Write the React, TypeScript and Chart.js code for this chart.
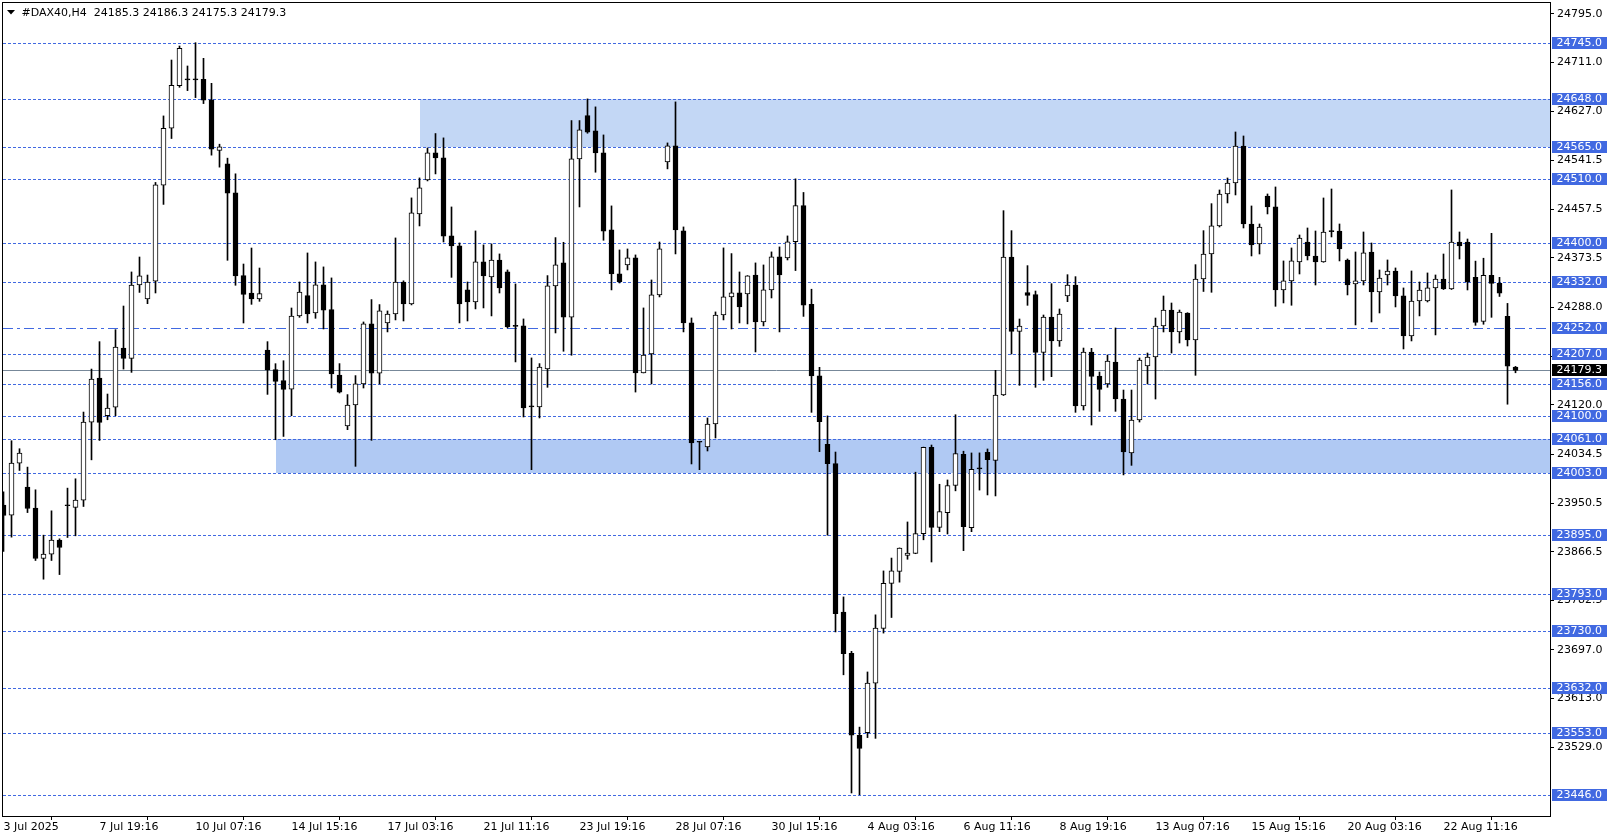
import { useEffect, useRef } from 'react';
import { Chart, registerables } from 'chart.js';

Chart.register(...registerables);

// H4 candles, 3 Jul - 22 Aug 2025
const opens = [
  23947, 23929.6, 24019.4, 23977.9, 23941.7, 23854.7, 23862.2, 23886.4, 23945.7, 23942.8,
  23955.5, 24090.2, 24166.2, 24101.1, 24116.1, 24218, 24200.2, 24326.8, 24302.6, 24333.2,
  24499.2, 24597.4, 24670.9, 24680.7, 24680.7, 24681.8, 24646.2, 24558.9, 24535.9, 24486,
  24343, 24313, 24302.6, 24214.6, 24180.6, 24161.6, 24147.2, 24273.3, 24308.5, 24278.5,
  24326.9, 24284.3, 24171.5, 24083.5, 24119.7, 24156, 24259.6, 24174.4, 24261.3, 24276.8,
  24332, 24294, 24449.5, 24508.2, 24554.8, 24546.1, 24411.5, 24394.2, 24318.3, 24297.5,
  24366.6, 24340.7, 24370, 24349.3, 24255.5, 24256.1, 24116.3, 24116.3, 24181.9, 24325.2,
  24364.9, 24271.1, 24544.4, 24619.2, 24592.8, 24554.8, 24421.8, 24345.9, 24361.4, 24373.5,
  24175, 24207.8, 24309.6, 24539.2, 24566.9, 24420.1, 24261.3, 24055.3, 24047.2, 24086.9,
  24275, 24306.2, 24313.1, 24311.4, 24344.1, 24263, 24318.3, 24375.2, 24373.5, 24401.4,
  24463.7, 24293.4, 24170, 24052, 24018.4, 23762.2, 23691.1, 23549.6, 23554.3, 23639.5,
  23734, 23811.9, 23832.6, 23860.1, 23863.5, 23897.7, 24046.6, 23908.4, 23933.9, 23980.8,
  24034.5, 23907.9, 24009.3, 24038, 24024, 24136.9, 24375.1, 24246.8, 24313.6, 24310.1,
  24210.6, 24271.6, 24230.1, 24307.8, 24326.8, 24117.9, 24211.1, 24169.7, 24155.9, 24193.9,
  24130, 24036.8, 24093.8, 24187, 24202.5, 24256, 24283.6, 24245.7, 24278.5, 24231.9,
  24337.2, 24380.3, 24428.7, 24483.9, 24502.9, 24566.7, 24432.1, 24397.6, 24480.4, 24461.5,
  24318.2, 24333.8, 24366.5, 24401, 24376.9, 24366.5, 24418.9, 24420, 24370, 24328.6,
  24333.8, 24383.8, 24314.8, 24344.1, 24351, 24307.9, 24238.8, 24299.2, 24299.2, 24321.7,
  24337.2, 24319.9, 24401, 24401, 24340, 24264, 24343.5, 24329.7, 24272.8, 24185.3,
];

const highs = [
  23970, 24058, 24044.2, 24012.5, 23973.3, 23895, 23937, 23888.7, 23976.2, 23992.3,
  24107.5, 24181.7, 24229, 24138.6, 24249.7, 24290.5, 24349.3, 24375.1, 24344, 24503.8,
  24618.6, 24715.1, 24739.3, 24704.8, 24745, 24718, 24674.9, 24569.8, 24545.7, 24518.7,
  24363, 24390.6, 24356.1, 24229, 24191, 24196.1, 24287.1, 24332, 24382.1, 24366.6,
  24358, 24339, 24191.1, 24137.6, 24170.4, 24263, 24301.6, 24293, 24282, 24408,
  24334, 24477.1, 24511.6, 24563.4, 24588.2, 24580.7, 24461.5, 24399.4, 24332, 24420.1,
  24396, 24397.7, 24380.4, 24352.8, 24328.6, 24268.2, 24200.9, 24191.1, 24343, 24408.6,
  24400.5, 24610.6, 24610.6, 24648, 24634.2, 24585.8, 24463.3, 24387.3, 24389, 24378.7,
  24287.2, 24335.5, 24401, 24572, 24642.8, 24427, 24269.9, 24057, 24097.3, 24280.3,
  24390.8, 24381, 24349.3, 24343, 24364.9, 24361.4, 24383.9, 24392.5, 24411.5, 24510,
  24486.5, 24319.5, 24184.7, 24100.9, 24038.5, 23788.4, 23694.5, 23563.7, 23658.9, 23757.5,
  23833.3, 23855.5, 23873, 23917.8, 24003.7, 24047, 24050.6, 23982.9, 23990.3, 24102.9,
  24039.9, 24036.9, 24037, 24043.8, 24179.5, 24455.1, 24420.6, 24268.1, 24360.2, 24316.4,
  24275, 24329.1, 24285.4, 24344.6, 24341.2, 24218, 24217.5, 24176.6, 24206, 24252.6,
  24145.5, 24145.5, 24200.8, 24209.4, 24269.8, 24307.8, 24295.7, 24283.6, 24279, 24361.9,
  24420.6, 24467.2, 24490.8, 24511.5, 24590.9, 24584, 24463.2, 24432.1, 24483.9, 24496,
  24368.3, 24390.7, 24413.1, 24425.2, 24420, 24477, 24492.5, 24432.1, 24371.7, 24383.8,
  24418.3, 24399.3, 24352.7, 24370, 24356.2, 24321.7, 24351, 24332, 24347.6, 24344.1,
  24380.3, 24490.8, 24418.3, 24406.2, 24368, 24373, 24416, 24340, 24295, 24186.3,
];

const lows = [
  23867, 23891.6, 24006.7, 23934, 23851.3, 23819, 23851.3, 23827, 23891, 23893.9,
  23944.5, 24025, 24058.5, 24094.2, 24101.1, 24181.7, 24176, 24314, 24294.6, 24313,
  24465.9, 24579.6, 24668, 24662.3, 24650.2, 24639.9, 24550.9, 24530.2, 24369.4, 24326.3,
  24261.2, 24293.4, 24298.6, 24138, 24059.7, 24065.4, 24101.1, 24271, 24261.3, 24269.3,
  24250.9, 24149, 24140.4, 24077.1, 24013.8, 24149, 24058.7, 24156, 24245.8, 24266.5,
  24264.7, 24292.4, 24428.7, 24506.4, 24518.5, 24401, 24340, 24261.3, 24264.7, 24285.5,
  24287.2, 24273.4, 24313, 24252.7, 24194, 24099, 24008, 24097.3, 24150.2, 24244,
  24212.4, 24205.5, 24461.5, 24588.7, 24521.4, 24404, 24318.3, 24330.3, 24352.8, 24142,
  24175, 24156, 24306.2, 24527.2, 24380.4, 24245.8, 24017.9, 24008, 24040.3, 24062.7,
  24266.5, 24250.9, 24261.3, 24259.6, 24211.2, 24256.1, 24304.4, 24245.8, 24370, 24351.7,
  24272.6, 24107, 24039.2, 23895, 23728, 23654, 23450, 23447, 23545.6, 23544.3,
  23726, 23752.9, 23813.9, 23853.4, 23863, 23887, 23848.7, 23901, 23897, 23971.5,
  23868.3, 23901, 23972.8, 23964.4, 23962.7, 24136, 24207.7, 24153.6, 24291.7, 24150.2,
  24162.2, 24168.6, 24220.9, 24298, 24107, 24111, 24085.1, 24108.7, 24150.2, 24108.7,
  23999, 24015.5, 24090.3, 24155.9, 24130, 24245.7, 24209.4, 24226.7, 24221.5, 24170.9,
  24315.6, 24314.2, 24426.9, 24468.4, 24482.2, 24425.2, 24376.9, 24380.3, 24449.4, 24290,
  24295.8, 24291.8, 24345.8, 24370, 24326.8, 24366, 24409.7, 24368.3, 24309.6, 24257.8,
  24326.8, 24263, 24278.5, 24326.8, 24288.9, 24216.4, 24230.2, 24273.4, 24297.5, 24240.6,
  24319, 24319, 24371.7, 24318.2, 24257.2, 24259, 24271, 24307, 24121, 24175.3,
];

const closes = [
  23929, 24019.4, 24036.7, 23941.1, 23854.7, 23862.2, 23886.4, 23873.7, 23945.7, 23955.5,
  24090.2, 24164.5, 24089.6, 24114.4, 24219.7, 24200.2, 24326.8, 24342.4, 24332, 24499.7,
  24597.4, 24671.5, 24735.2, 24680.7, 24680.7, 24645.6, 24561.2, 24565.2, 24485.4, 24342.4,
  24310.7, 24302.6, 24311.9, 24180, 24160.4, 24146.6, 24273.3, 24314.7, 24276.8, 24326.9,
  24283.2, 24173.2, 24141.6, 24119.7, 24156, 24259.6, 24174.4, 24282, 24276.8, 24332,
  24294, 24451.2, 24494.3, 24554.8, 24546.1, 24410.9, 24394.2, 24294, 24297.5, 24366.6,
  24342.4, 24370, 24321.7, 24254.4, 24255.5, 24114.5, 24116.3, 24185.3, 24325.2, 24361.4,
  24271.1, 24544.4, 24594.5, 24590.5, 24554.8, 24419.5, 24345.9, 24332, 24373.5, 24175,
  24206, 24309.6, 24389, 24566.9, 24421.8, 24261.3, 24054.1, 24055.3, 24086.9, 24275,
  24306.2, 24313.1, 24288.9, 24342.4, 24263, 24318.3, 24375.2, 24344.1, 24401.4, 24463.7,
  24292, 24170, 24090.9, 24018.4, 23759.5, 23690.5, 23549.6, 23526.8, 23639.5, 23734.7,
  23811.9, 23833.3, 23872.9, 23864.2, 23897.7, 24046.6, 23908.4, 23935.9, 23980.8, 24035.9,
  23909.8, 24008.7, 24009.3, 24025.3, 24136.9, 24375.1, 24246.8, 24256, 24309, 24210.6,
  24271.6, 24230.1, 24276.7, 24326.8, 24117.9, 24211.1, 24169.1, 24146.7, 24195.6, 24130,
  24038.5, 24093.8, 24197.3, 24202.5, 24256, 24283.6, 24245.7, 24280.2, 24231.9, 24337.2,
  24380.3, 24428.7, 24483.9, 24502.9, 24566.7, 24432.1, 24395.9, 24426.9, 24461.5, 24318.2,
  24333.8, 24368.3, 24407.9, 24376.9, 24366.5, 24418.3, 24418.9, 24389, 24326.8, 24333.8,
  24382.1, 24314.8, 24338.9, 24351, 24307.9, 24238.8, 24299.2, 24318.2, 24321.7, 24337.2,
  24319.9, 24401, 24394.2, 24332, 24262.4, 24343.5, 24329.7, 24312.5, 24186.5, 24179.3,
];

// time axis: one label every 12 bars
const timeLabels = [
  '3 Jul 2025', '7 Jul 19:16', '10 Jul 07:16', '14 Jul 15:16', '17 Jul 03:16', '21 Jul 11:16',
  '23 Jul 19:16', '28 Jul 07:16', '30 Jul 15:16', '4 Aug 03:16', '6 Aug 11:16', '8 Aug 19:16',
  '13 Aug 07:16', '15 Aug 15:16', '20 Aug 03:16', '22 Aug 11:16',
];
const barsPerLabel = 12;

const priceTicks = [
  24795, 24711, 24627, 24541.5, 24457.5, 24373.5, 24288, 24204, 24120, 24034.5,
  23950.5, 23866.5, 23782.5, 23697, 23613, 23529,
];

// horizontal levels drawn on the chart
const levels = [
  24745, 24648, 24565, 24510, 24400, 24332, 24252, 24207, 24156, 24100, 24061, 24003,
  23895, 23793, 23730, 23632, 23553, 23446,
];
const dashDotLevel = 24252;
const lastPrice = 24179.3;

// supply / demand zones: start bar, low, high
const zoneStart = [52, 34];
const zoneLow = [24565, 24003];
const zoneHigh = [24648, 24061];

const symbolTitle = '#DAX40,H4';

const FONT = "11px 'DejaVu Sans'";
const BLUE = '#4169e1';

const mt4Plugin = {
  id: 'mt4Overlay',
  beforeDatasetsDraw(chart: Chart) {
    const { ctx, chartArea: a } = chart;
    const x = chart.scales.x;
    const y = chart.scales.y;
    ctx.save();
    ctx.beginPath();
    ctx.rect(a.left, a.top, a.right - a.left, a.bottom - a.top);
    ctx.clip();

    const zoneColors = ['#c3d7f5', '#b0c9f3'];
    zoneStart.forEach((s, i) => {
      const x0 = Math.round(x.getPixelForValue(s));
      const yTop = Math.round(y.getPixelForValue(zoneHigh[i]));
      const yBot = Math.round(y.getPixelForValue(zoneLow[i]));
      ctx.fillStyle = zoneColors[i];
      ctx.fillRect(x0, yTop, a.right - x0, yBot - yTop);
    });

    ctx.strokeStyle = BLUE;
    ctx.lineWidth = 1;
    levels.forEach((lv) => {
      const py = Math.round(y.getPixelForValue(lv)) + 0.5;
      ctx.setLineDash(lv === dashDotLevel ? [10, 4, 3, 4] : [3, 2]);
      ctx.beginPath();
      ctx.moveTo(a.left, py);
      ctx.lineTo(a.right, py);
      ctx.stroke();
    });

    ctx.setLineDash([]);
    ctx.strokeStyle = '#778899';
    const lp = Math.round(y.getPixelForValue(lastPrice)) + 0.5;
    ctx.beginPath();
    ctx.moveTo(a.left, lp);
    ctx.lineTo(a.right, lp);
    ctx.stroke();
    ctx.restore();
  },
  afterDraw(chart: Chart) {
    const { ctx, chartArea: a } = chart;
    const y = chart.scales.y;
    ctx.save();

    // frame
    ctx.strokeStyle = '#000';
    ctx.lineWidth = 1;
    ctx.strokeRect(a.left - 0.5, a.top - 0.5, a.right - a.left + 1, a.bottom - a.top + 1);

    // price labels of the levels
    ctx.font = FONT;
    ctx.textBaseline = 'middle';
    ctx.textAlign = 'left';
    const boxX = a.right + 2;
    const drawBox = (v: number, bg: string) => {
      const py = Math.round(y.getPixelForValue(v));
      ctx.fillStyle = bg;
      ctx.fillRect(boxX, py - 6, 55, 12);
      ctx.fillStyle = '#fff';
      ctx.fillText(v.toFixed(1), boxX + 4.5, py + 0.5);
    };
    levels.forEach((lv) => drawBox(lv, BLUE));
    drawBox(lastPrice, '#000');

    // header
    ctx.fillStyle = '#000';
    ctx.beginPath();
    ctx.moveTo(7, 10);
    ctx.lineTo(15, 10);
    ctx.lineTo(11, 14.5);
    ctx.closePath();
    ctx.fill();
    const n = closes.length - 1;
    const ohlc = [opens[n], highs[n], lows[n], closes[n]].map((v) => v.toFixed(1)).join(' ');
    ctx.fillText(`${symbolTitle}  ${ohlc}`, 21.5, 13);
    ctx.restore();
  },
};

export default function App() {
  const canvasRef = useRef<HTMLCanvasElement>(null);

  useEffect(() => {
    document.body.style.margin = '0';
    const ctx = canvasRef.current?.getContext('2d');
    if (!ctx) return;

    Chart.defaults.font.family = "'DejaVu Sans'";
    Chart.defaults.font.size = 11;
    Chart.defaults.color = '#000';

    const idx = opens.map((_, i) => i);
    const bull = idx.map((i) => closes[i] > opens[i]);

    const chart = new Chart(ctx, {
      type: 'bar',
      data: {
        datasets: [
          {
            label: 'body',
            data: idx.map((i) => ({ x: i, y: [Math.min(opens[i], closes[i]), Math.max(opens[i], closes[i])] })) as any,
            backgroundColor: idx.map((i) => (bull[i] ? '#ffffff' : '#000000')),
            borderColor: '#000',
            borderWidth: 1,
            borderSkipped: false,
            barThickness: 5,
            minBarLength: 1,
            grouped: false,
            order: 0,
          },
          {
            label: 'wick',
            data: idx.map((i) => ({ x: i, y: [lows[i], highs[i]] })) as any,
            backgroundColor: '#000',
            borderWidth: 0,
            barThickness: 1,
            grouped: false,
            order: 1,
          },
        ],
      },
      options: {
        responsive: false,
        animation: false,
        events: [],
        layout: { padding: { left: 3, top: 3, right: 0, bottom: 0 } },
        plugins: { legend: { display: false }, tooltip: { enabled: false } },
        scales: {
          x: {
            type: 'linear',
            position: 'bottom',
            offset: false,
            min: -0.0625,
            max: 193.3125,
            afterBuildTicks: (s: any) => {
              s.ticks = timeLabels.map((_, k) => ({ value: k * barsPerLabel }));
            },
            afterFit: (s: any) => {
              s.height = 24;
              s.paddingLeft = 0;
              s.paddingRight = 0;
            },
            ticks: {
              autoSkip: false,
              maxRotation: 0,
              minRotation: 0,
              align: 'start',
              padding: 1,
              color: '#000',
              callback: (v: any) => timeLabels[Math.round(Number(v) / barsPerLabel)] ?? '',
            },
            grid: { drawOnChartArea: false, drawTicks: true, tickLength: 4, color: '#000' },
            border: { display: false },
          },
          y: {
            type: 'linear',
            position: 'right',
            min: 23410.3,
            max: 24813.5,
            afterBuildTicks: (s: any) => {
              s.ticks = priceTicks.map((v) => ({ value: v }));
            },
            afterFit: (s: any) => {
              s.width = 64;
              s.paddingTop = 0;
              s.paddingBottom = 0;
            },
            ticks: {
              autoSkip: false,
              padding: 3,
              color: '#000',
              callback: (v: any) => Number(v).toFixed(1),
            },
            grid: { drawOnChartArea: false, drawTicks: true, tickLength: 4, color: '#000' },
            border: { display: false },
          },
        },
      },
      plugins: [mt4Plugin],
    });

    return () => chart.destroy();
  }, []);

  return (
    <div style={{ width: 1614, height: 840, background: '#fff' }}>
      <canvas ref={canvasRef} width={1614} height={840} style={{ display: 'block' }} />
    </div>
  );
}
